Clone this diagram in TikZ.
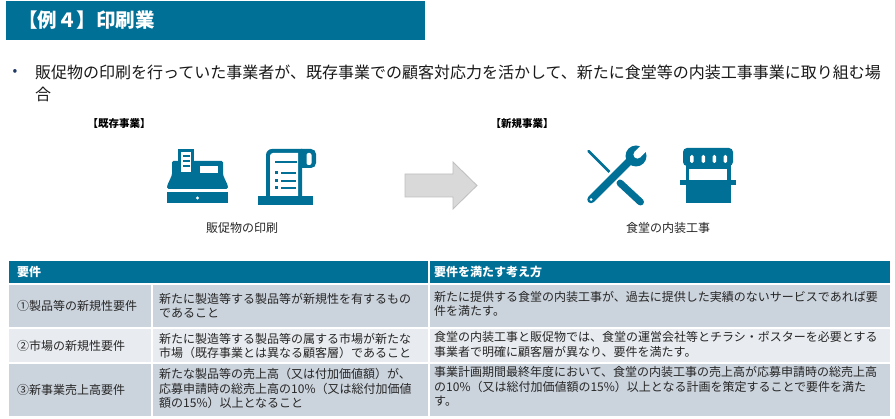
\documentclass[tikz,border=0pt]{standalone}
\usepackage{fontspec}
\setmainfont{Noto Sans CJK JP}
\definecolor{teal1}{RGB}{0,112,150}
\definecolor{rowdark}{RGB}{203,211,220}
\definecolor{rowlight}{RGB}{232,235,239}
\definecolor{txt}{RGB}{38,38,38}
\definecolor{navy}{RGB}{31,56,100}
\definecolor{arrowfill}{RGB}{217,217,217}
\definecolor{arrowline}{RGB}{191,191,191}
\begin{document}
\begin{tikzpicture}[x=1pt,y=-1pt,
  celltext/.style={font=\fontsize{12}{14.5}\selectfont, text=txt, anchor=west, align=left, inner sep=0pt},
  headtext/.style={font=\fontsize{12}{14}\selectfont\bfseries, text=white, anchor=west, inner sep=0pt},
  caption/.style={font=\fontsize{12}{14}\selectfont, text=txt, inner sep=0pt},
  tag/.style={font=\fontsize{10.5}{12}\selectfont\bfseries, text=black, inner sep=0pt},
  icon/.style={fill=teal1},
  iconline/.style={draw=teal1, line width=2pt}]
\useasboundingbox (0,0) rectangle (895,419);
\fill[white] (0,0) rectangle (895,419);

% title bar
\fill[teal1] (6,1) rectangle (425,40);
\node[font=\fontsize{19.5}{22}\selectfont\bfseries, text=white, anchor=west, inner sep=0pt] (title) at (18,20.5) {【例４】印刷業};

% bullet text
\node[font=\fontsize{14}{16}\selectfont, text=navy, inner sep=0pt] (bul) at (15,73) {•};
\node[font=\fontsize{16}{22}\selectfont, text=black!90, anchor=west, align=left, inner sep=0pt] (intro) at (35,83.5)
  {販促物の印刷を行っていた事業者が、既存事業での顧客対応力を活かして、新たに食堂等の内装工事事業に取り組む場\\合};

% tags
\node[tag] (kizon) at (119,124) {【既存事業】};
\node[tag] (shinki) at (522,124) {【新規事業】};

% cash register
\fill[icon, rounded corners=1.5pt] (172,161) -- (223,161) -- (223,175) -- (228,186) -- (228,189) -- (167,189) -- (167,186) -- (172,175) -- cycle;
\fill[icon] (178,149) rectangle (194,175);
\fill[white] (181,152.5) rectangle (191,172);
\fill[icon] (183,155.5) rectangle (190,157.5);
\fill[icon] (183,160.5) rectangle (190,162.5);
\fill[icon] (183,165.5) rectangle (190,167.5);
\fill[white] (200,166) rectangle (218,173);
\fill[icon] (167,192) rectangle (228,203);
\fill[white] (197.5,198) circle (1.6);

% scroll / document
\fill[icon] (266,197) [rounded corners=6pt] -- (266,149) [sharp corners] -- (302,149) -- (302,197) -- cycle;
\fill[icon, rounded corners=5pt] (296,149) rectangle (316,168);
\fill[white] (270,197) [rounded corners=3pt] -- (270,153) [sharp corners] -- (298,153) -- (298,197) -- cycle;
\fill[white, rounded corners=2pt] (306.5,153) rectangle (311.5,165);
\fill[icon] (258,196) rectangle (313,205);
\fill[icon] (275,161.5) rectangle (297,163.5);
\fill[icon] (275,171.5) rectangle (278,174.5);
\fill[icon] (281,172) rectangle (296,174);
\fill[icon] (275,179.5) rectangle (278,182.5);
\fill[icon] (281,180) rectangle (296,182);
\fill[icon] (275,186.5) rectangle (278,189.5);
\fill[icon] (281,187) rectangle (296,189);

% arrow
\draw[arrowline, fill=arrowfill, line width=0.8pt] (405,174) -- (453,174) -- (453,162) -- (477,185.5) -- (453,209) -- (453,197) -- (405,197) -- cycle;

% captions
\node[caption] (cap1) at (242,228) {販促物の印刷};
\node[caption] (cap2) at (668,228) {食堂の内装工事};

% screwdriver
\draw[teal1, line width=2.5pt, line cap=round] (588.5,151) -- (614,176.5);
\draw[teal1, line width=7pt, line cap=round] (620,183) -- (640.5,202);
% wrench
\draw[white, line width=12pt] (594,196) -- (627,163);
\draw[teal1, line width=7.5pt, line cap=round] (591,199.5) -- (629,161.5);
\fill[teal1] (636,156) circle (10.5);
\fill[white] (634.58,151.76) -- (640.24,157.42) -- (649.44,148.22) -- (643.78,142.56) -- cycle;
\fill[white] (637.41,154.59) circle (4);
\fill[white] (591,199.5) circle (1.5);

% shop
\fill[icon, rounded corners=4pt] (683,148) rectangle (733,166);
\fill[icon] (686,164) rectangle (731,203);
\fill[white, rounded corners=1.5pt] (690,155) rectangle (693.5,163);
\fill[white, rounded corners=1.5pt] (701.5,155) rectangle (705,163);
\fill[white, rounded corners=1.5pt] (712.5,155) rectangle (716,163);
\fill[white, rounded corners=1.5pt] (723.5,155) rectangle (727,163);
\fill[white] (689,169.5) rectangle (727,180.5);
\fill[icon] (680,180.5) rectangle (736,185);

% table
\fill[teal1] (9,261) rectangle (890,283);
\draw[white, line width=1.5pt] (429,261) -- (429,283);
\fill[rowdark] (9,285) rectangle (890,327);
\fill[rowlight] (9,329) rectangle (890,362);
\fill[rowdark] (9,364) rectangle (890,416);
\draw[white, line width=2pt] (152,285) -- (152,416) (429,285) -- (429,416);

\node[headtext] (h1) at (17,271.5) {要件};
\node[headtext] (h2) at (434,271.5) {要件を満たす考え方};

\node[celltext] (r1c1) at (17,306) {①製品等の新規性要件};
\node[celltext] (r1c2) at (159,305.5) {新たに製造等する製品等が新規性を有するもの\\であること};
\node[celltext] (r1c3) at (434,304) {新たに提供する食堂の内装工事が、過去に提供した実績のないサービスであれば要\\件を満たす。};

\node[celltext] (r2c1) at (17,345.5) {②市場の新規性要件};
\node[celltext] (r2c2) at (159,346) {新たに製造等する製品等の属する市場が新たな\\市場（既存事業とは異なる顧客層）であること};
\node[celltext] (r2c3) at (434,344.5) {食堂の内装工事と販促物では、食堂の運営会社等とチラシ・ポスターを必要とする\\事業者で明確に顧客層が異なり、要件を満たす。};

\node[celltext] (r3c1) at (17,390) {③新事業売上高要件};
\node[celltext] (r3c2) at (159,388.5) {新たな製品等の売上高（又は付加価値額）が、\\応募申請時の総売上高の10\%（又は総付加価値\\額の15\%）以上となること};
\node[celltext] (r3c3) at (434,386.5) {事業計画期間最終年度において、食堂の内装工事の売上高が応募申請時の総売上高\\の10\%（又は総付加価値額の15\%）以上となる計画を策定することで要件を満た\\す。};
\end{tikzpicture}
\end{document}
